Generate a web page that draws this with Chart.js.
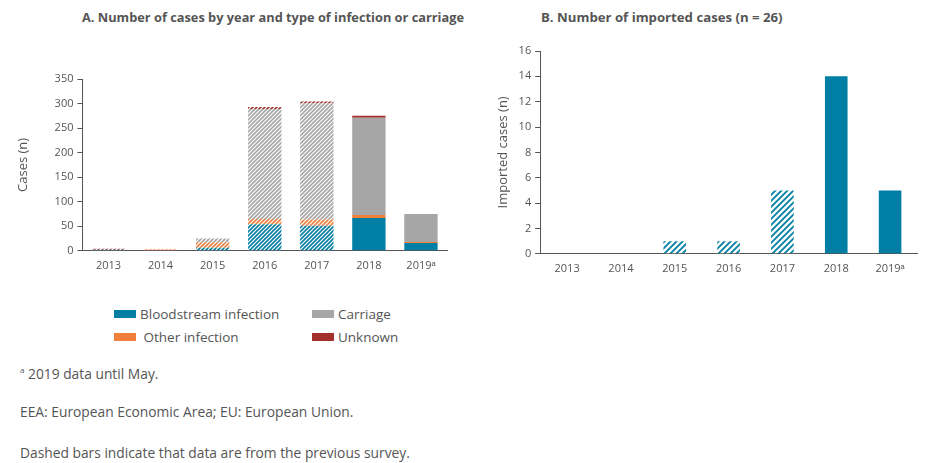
<!DOCTYPE html>
<html>
<head>
<meta charset="utf-8">
<script src="https://cdn.jsdelivr.net/npm/chart.js@4.4.1/dist/chart.umd.min.js"></script>
<style>
  body { margin: 0; width: 926px; height: 463px; background: #fff; font-family: "Open Sans", sans-serif; color: #555; position: relative; overflow: hidden; }
  .box { position: absolute; }
  .title { position: absolute; font-weight: bold; font-size: 12.8px; color: #555; white-space: nowrap; }
  .legend { position: absolute; font-size: 13.5px; color: #555; white-space: nowrap; }
  .legend span.sw { display: inline-block; width: 22px; height: 8px; margin-right: 4px; vertical-align: 1px; }
  .note { position: absolute; left: 20px; font-size: 13.8px; color: #555; white-space: nowrap; }
</style>
</head>
<body>
<div class="title" style="left:82px; top:8px;">A. Number of cases by year and type of infection or carriage</div>
<div class="title" style="left:541px; top:8px; font-size:13.2px;">B. Number of imported cases (n = 26)</div>
<div class="box" style="left:0; top:60px; width:460px; height:222px;"><canvas id="chartA"></canvas></div>
<div class="box" style="left:480px; top:36px; width:446px; height:247px;"><canvas id="chartB"></canvas></div>

<div class="legend" style="left:114px; top:305px;"><span class="sw" style="background:#007ea3"></span>Bloodstream infection</div>
<div class="legend" style="left:312px; top:305px;"><span class="sw" style="background:#a6a6a6"></span>Carriage</div>
<div class="legend" style="left:114px; top:328px;"><span class="sw" style="background:#f07f3c"></span> Other infection</div>
<div class="legend" style="left:312px; top:328px;"><span class="sw" style="background:#a3302a"></span>Unknown</div>

<div class="note" style="top:364px;"><sup style="font-size:8px">a</sup> 2019 data until May.</div>
<div class="note" style="top:402px;">EEA: European Economic Area; EU: European Union.</div>
<div class="note" style="top:443px;">Dashed bars indicate that data are from the previous survey.</div>

<script>
const years = ['2013', '2014', '2015', '2016', '2017', '2018', '2019ᵃ'];
const bloodstream = [2, 0, 6, 54, 51, 67, 16];
const otherInfection = [0, 3, 11, 11, 13, 6, 2];
const carriage = [0, 0, 8, 224, 236, 198, 57];
const unknown = [2, 0, 0, 4, 4, 4, 0];
const imported = [0, 0, 1, 1, 5, 14, 5];
const previousSurvey = [true, true, true, true, true, false, false];

const BLUE = '#007ea3', ORANGE = '#f07f3c', GREY = '#a6a6a6', RED = '#a3302a', AXIS = '#555';

function hatch(color, size, weight) {
  const shape = document.createElement('canvas');
  shape.width = size;
  shape.height = size;
  const c = shape.getContext('2d');
  c.fillStyle = '#fff';
  c.fillRect(0, 0, size, size);
  c.strokeStyle = color;
  c.lineWidth = size * weight;
  c.beginPath();
  c.moveTo(0, size); c.lineTo(size, 0);
  c.moveTo(-size / 2, size / 2); c.lineTo(size / 2, -size / 2);
  c.moveTo(size / 2, size * 1.5); c.lineTo(size * 1.5, size / 2);
  c.stroke();
  return c.createPattern(shape, 'repeat');
}

function fills(color, size, weight) {
  const p = hatch(color, size, weight);
  return previousSurvey.map(prev => prev ? p : color);
}

Chart.defaults.font.family = '"Open Sans", sans-serif';
Chart.defaults.color = AXIS;

const axisY = (max, step, title, gap) => ({
  stacked: true,
  min: 0,
  max: max,
  ticks: { stepSize: step, font: { size: 11 }, color: AXIS, padding: 4 },
  grid: { drawOnChartArea: false, drawTicks: true, tickLength: 5, color: AXIS },
  border: { display: true, color: AXIS, width: 1 },
  title: { display: true, text: title, font: { size: 13 }, color: AXIS, padding: { top: 0, bottom: gap } }
});

const axisX = {
  stacked: true,
  ticks: { font: { size: 11 }, color: AXIS, padding: 8 },
  grid: { display: false, drawTicks: false },
  border: { display: true, color: AXIS, width: 1 }
};

new Chart(document.getElementById('chartA'), {
  type: 'bar',
  data: {
    labels: years,
    datasets: [
      { label: 'Bloodstream infection', data: bloodstream, backgroundColor: fills(BLUE, 4, 0.4) },
      { label: 'Other infection', data: otherInfection, backgroundColor: fills(ORANGE, 4, 0.4) },
      { label: 'Carriage', data: carriage, backgroundColor: fills(GREY, 4, 0.4) },
      { label: 'Unknown', data: unknown, backgroundColor: fills(RED, 4, 0.4) }
    ]
  },
  options: {
    animation: false,
    responsive: true,
    maintainAspectRatio: false,
    datasets: { bar: { barPercentage: 0.64, categoryPercentage: 1 } },
    layout: { padding: { left: 15, right: 13, top: 19, bottom: 2 } },
    scales: { x: axisX, y: axisY(350, 50, 'Cases (n)', 20) },
    plugins: { legend: { display: false }, tooltip: { enabled: false } }
  }
});

new Chart(document.getElementById('chartB'), {
  type: 'bar',
  data: {
    labels: years,
    datasets: [
      { label: 'Imported cases', data: imported, backgroundColor: fills(BLUE, 6, 0.3) }
    ]
  },
  options: {
    animation: false,
    responsive: true,
    maintainAspectRatio: false,
    datasets: { bar: { barPercentage: 0.42, categoryPercentage: 1 } },
    layout: { padding: { left: 15, right: 9, top: 15, bottom: 0 } },
    scales: { x: axisX, y: axisY(16, 2, 'Imported cases (n)', 4) },
    plugins: { legend: { display: false }, tooltip: { enabled: false } }
  }
});
</script>
</body>
</html>
